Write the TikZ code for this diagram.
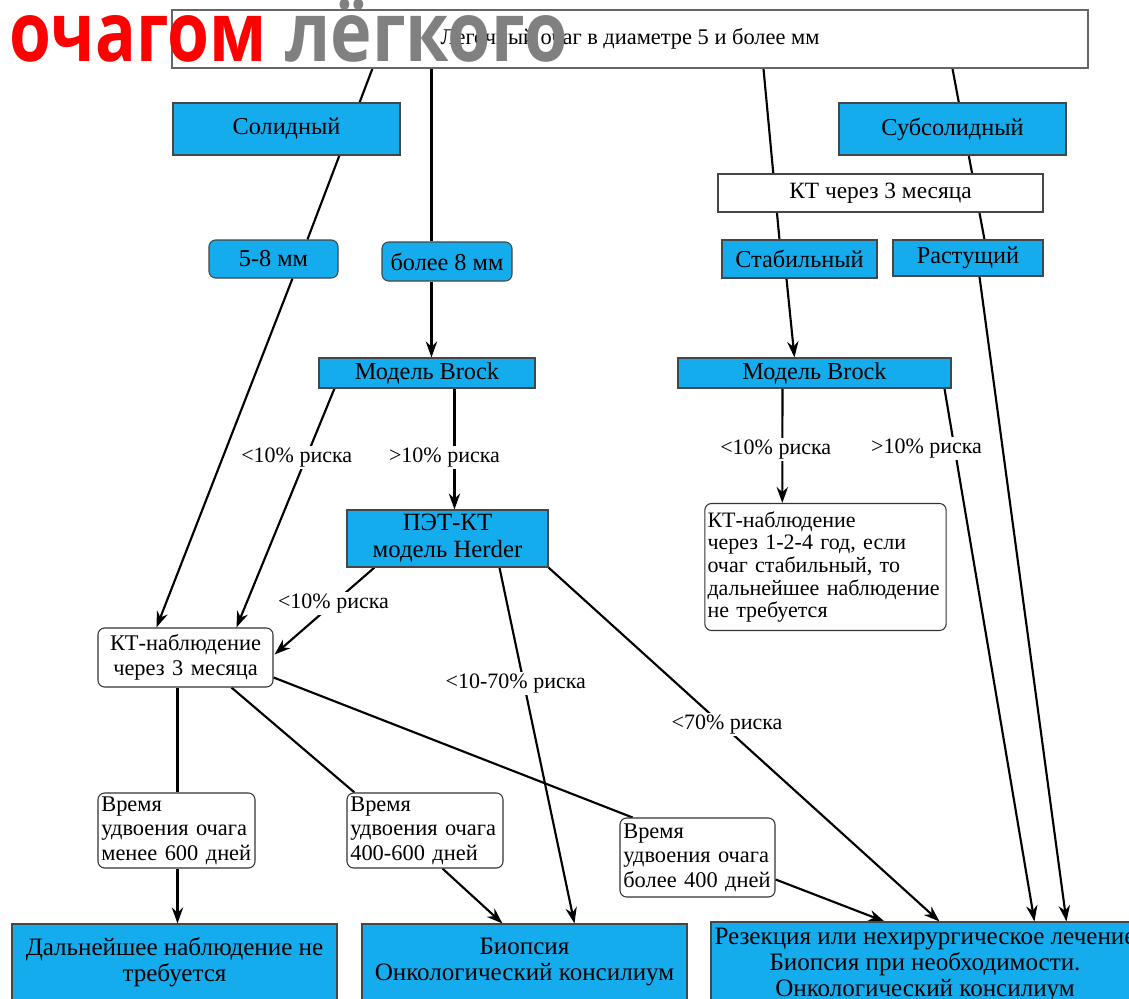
\documentclass[tikz,border=0pt]{standalone}
\usepackage{fontspec}
\setmainfont{Liberation Serif}
\newfontfamily\headfont{Open Sans}
\usetikzlibrary{arrows.meta,calc,backgrounds}

\definecolor{boxblue}{RGB}{20,172,236}
\definecolor{edgegray}{RGB}{70,70,70}
\definecolor{headred}{RGB}{255,0,0}
\definecolor{headgray}{RGB}{128,128,128}

\tikzset{
  bluebox/.style={draw=edgegray, fill=boxblue, line width=0.8pt, inner sep=0pt,
    align=center, font=\fontsize{18.2}{20}\selectfont},
  endbox/.style={bluebox, font=\fontsize{18.8}{19.5}\selectfont},
  plainbox/.style={draw=edgegray, fill=white, line width=0.8pt, inner sep=0pt,
    align=center, font=\fontsize{17.5}{20}\selectfont},
  notebox/.style={draw=black!80, fill=white, rounded corners=5pt, line width=0.8pt,
    inner xsep=2.5pt, inner ysep=1pt, font=\fontsize{16.8}{18.5}\selectfont},
  risk/.style={fill=white, inner sep=1.5pt, font=\fontsize{16.5}{18}\selectfont},
  link/.style={line width=1.6pt, black},
  arrowlink/.style={link, -{Stealth[length=12pt,width=8.5pt]}},
  headword/.style={anchor=base west, inner sep=0pt, font=\headfont\bfseries\fontsize{62}{62}\selectfont},
}

\begin{document}
\begin{tikzpicture}[x=0.75pt,y=-0.75pt]
\useasboundingbox (0,0) rectangle (1129,999);

% top level
\node[plainbox, draw=black!60, minimum width=687pt, minimum height=43.5pt,
  font=\fontsize{16.8}{20}\selectfont] (top) at (630,39)
  {Легочный очаг в диаметре 5 и более мм};

% nodule type
\node[bluebox, minimum width=170.25pt, minimum height=39pt] (solid) at (286.5,129) {Солидный};
\node[bluebox, minimum width=170.25pt, minimum height=39pt] (subsolid) at (952.5,129) {Субсолидный};
\node[plainbox, minimum width=243.75pt, minimum height=28.5pt] (ct3) at (880.5,193) {КТ через 3 месяца};

% size / dynamics
\node[bluebox, rounded corners=5pt, minimum width=96.75pt, minimum height=28.5pt] (small) at (273.5,259) {5-8 мм};
\node[bluebox, rounded corners=5pt, minimum width=97.5pt, minimum height=29.25pt] (large) at (447,261.5) {более 8 мм};
\node[bluebox, minimum width=116.25pt, minimum height=28.5pt] (stable) at (799.5,259) {Стабильный};
\node[bluebox, minimum width=112.5pt, minimum height=27pt] (growing) at (968,258) {Растущий};

% risk models
\node[bluebox, minimum width=162pt, minimum height=22.5pt] (brockL) at (427,373) {Модель Brock};
\node[bluebox, minimum width=204.75pt, minimum height=22.5pt] (brockR) at (814.5,373) {Модель Brock};
\node[bluebox, minimum width=150.75pt, minimum height=42.75pt, font=\fontsize{18.6}{20}\selectfont] (pet) at (447.5,538.5) {ПЭТ-КТ\\модель Herder};

% follow-up notes
\node[notebox, text width=177pt, inner xsep=2pt, align=left, minimum height=95.25pt,
  font=\fontsize{16.5}{16.9}\selectfont] (ctyear) at (825.5,567)
  {КТ-наблюдение\\через 1-2-4 год, если\\очаг стабильный, то\\дальнейшее наблюдение\\не требуется};
\node[notebox, text width=126.25pt, align=center, minimum height=44.25pt] (ct3m) at (185.5,657.5)
  {КТ-наблюдение\\через 3 месяца};
\node[notebox, text width=112.75pt, align=left, minimum height=56.25pt] (dt600) at (176.5,830.5)
  {Время\\удвоения очага\\менее 600 дней};
\node[notebox, text width=112pt, align=left, minimum height=56.25pt] (dt400600) at (425,830.5)
  {Время\\удвоения очага\\400-600 дней};
\node[notebox, text width=111.25pt, align=left, minimum height=59.25pt] (dt400) at (697.5,857.5)
  {Время\\удвоения очага\\более 400 дней};

% outcomes
\node[endbox, minimum width=243.75pt, minimum height=57pt] (nofollow) at (174.5,962)
  {Дальнейшее наблюдение не\\требуется};
\node[endbox, minimum width=243.75pt, minimum height=57pt] (biopsy) at (524.5,962)
  {Биопсия\\Онкологический консилиум};
\node[endbox, minimum width=321pt, minimum height=64.5pt] (resect) at (925,965)
  {Резекция или нехирургическое лечение\\Биопсия при необходимости.\\Онкологический консилиум};

% connectors, kept behind the boxes
\begin{scope}[on background layer]
\fill[white] (0,0) rectangle (1129,999);
\draw[link] ($(top.south west)+(201,0)$) -- ($(small.north west)+(99,0)$);
\draw[link] ($(top.south west)+(260,0)$) -- ($(large.north west)+(50,0)$);
\draw[arrowlink] ($(large.south west)+(50,0)$) -- ($(brockL.north west)+(113,0)$);
\draw[link] ($(top.south west)+(592,0)$) -- ($(stable.north west)+(58,0)$);
\draw[arrowlink] ($(stable.south west)+(65,0)$) -- ($(brockR.north west)+(117,0)$);
\draw[link] ($(top.south west)+(781,0)$) -- ($(growing.north west)+(92,0)$);
\draw[arrowlink] ($(small.south west)+(84,0)$) -- ($(ct3m.north west)+(59,0)$);
\draw[arrowlink] ($(brockL.south west)+(16,0)$) -- node[risk, pos=0.29, xshift=-7pt] {<10\% риска} ($(ct3m.north west)+(139,0)$);
\draw[arrowlink] ($(brockL.south west)+(136,0)$) -- node[risk, pos=0.57, xshift=-7.5pt] {>10\% риска} ($(pet.north west)+(108,0)$);
\draw[arrowlink] ($(pet.south west)+(28,0)$) -- node[risk, pos=0.41] {<10\% риска} ($(ct3m.north east)+(1,27)$);
\draw[arrowlink] ($(pet.south west)+(153,0)$) -- node[risk, pos=0.325, xshift=-6pt] {<10-70\% риска} ($(biopsy.north west)+(213,0)$);
\draw[arrowlink] (pet.south east) -- node[risk, pos=0.443, xshift=4pt] {<70\% риска} ($(resect.north west)+(229,0)$);
\draw[arrowlink] ($(brockR.south west)+(267,0)$) -- node[risk, pos=0.112, xshift=-21pt] {>10\% риска} ($(resect.north west)+(324,0)$);
\draw[arrowlink] ($(growing.south west)+(87,0)$) -- ($(resect.north west)+(356,0)$);
\draw[arrowlink] ($(brockR.south west)+(105,0)$) -- node[risk, pos=0.53, xshift=-5pt] {<10\% риска} ($(ctyear.north west)+(78,0)$);
\draw[link] ($(ct3m.south west)+(80,0)$) -- ($(dt600.north west)+(80,0)$);
\draw[arrowlink] ($(dt600.south west)+(80,0)$) -- ($(nofollow.north west)+(166,0)$);
\draw[link] ($(ct3m.south west)+(134,0)$) -- ($(dt400600.north west)+(8,0)$);
\draw[arrowlink] ($(dt400600.south west)+(96,0)$) -- ($(biopsy.north west)+(141,0)$);
\draw[link] ($(ct3m.north east)+(0,50)$) -- ($(dt400.north west)+(13,0)$);
\draw[arrowlink] ($(dt400.north east)+(0,62)$) -- ($(resect.north west)+(174,0)$);
\end{scope}

% headline lettering over the top box
\node[headword] (headred) at (9,62) {\scalebox{0.82}[1]{\color{headred}очагом}};
\node[headword] (headgray) at (285,62) {\scalebox{0.85}[1]{\color{headgray}лёгкого}};
\end{tikzpicture}
\end{document}
